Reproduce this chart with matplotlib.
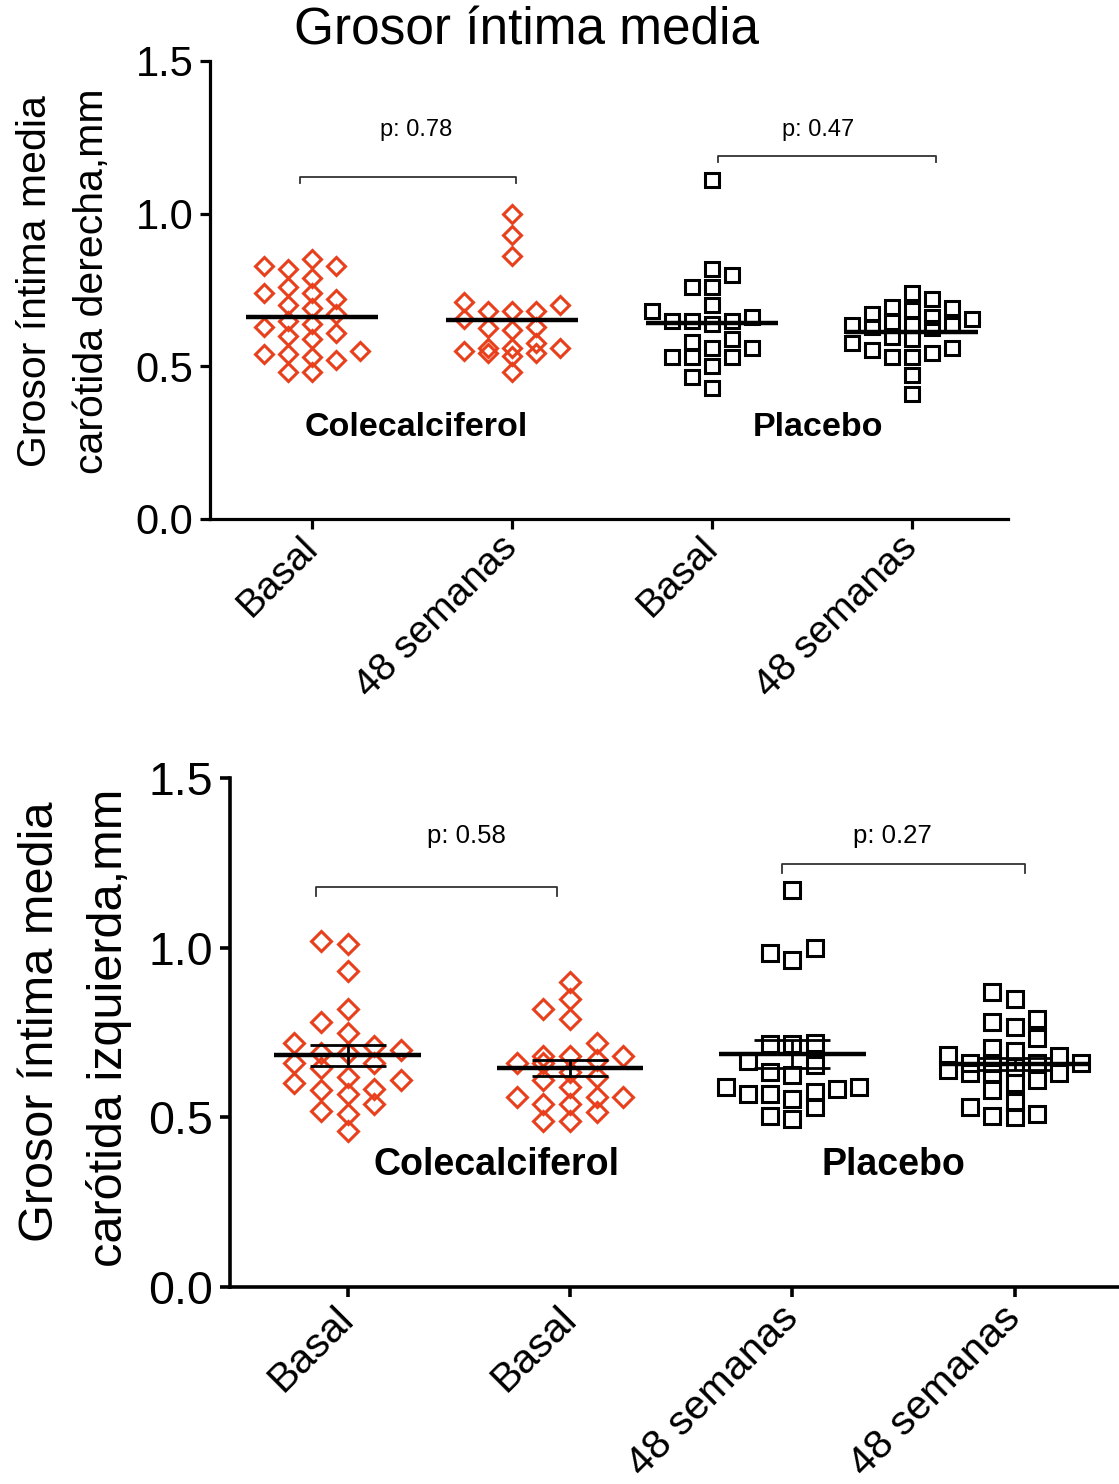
import numpy as np
import matplotlib.pyplot as plt

plt.rcParams['font.family'] = ['Liberation Sans', 'DejaVu Sans']

RED = '#e8401c'

# carótida derecha
der_cole_basal = [0.85, 0.83, 0.79, 0.82, 0.83, 0.74, 0.72, 0.70, 0.74, 0.76,
                  0.69, 0.65, 0.63, 0.64, 0.67, 0.61, 0.59, 0.60, 0.54, 0.52,
                  0.55, 0.54, 0.53, 0.48, 0.48]
der_cole_48 = [1.00, 0.93, 0.86, 0.68, 0.71, 0.68, 0.70, 0.68, 0.655, 0.63,
               0.62, 0.625, 0.56, 0.545, 0.545, 0.575, 0.55, 0.56, 0.535, 0.56,
               0.48]
der_plac_basal = [1.11, 0.82, 0.80, 0.76, 0.76, 0.70, 0.68, 0.65, 0.65, 0.64,
                  0.65, 0.66, 0.58, 0.59, 0.56, 0.56, 0.53, 0.53, 0.53, 0.50,
                  0.465, 0.43]
der_plac_48 = [0.74, 0.72, 0.69, 0.685, 0.695, 0.67, 0.645, 0.655, 0.66, 0.635,
               0.63, 0.625, 0.635, 0.635, 0.595, 0.59, 0.56, 0.545, 0.53, 0.53,
               0.555, 0.575, 0.47, 0.41]

# carótida izquierda
izq_cole_basal = [1.02, 1.01, 0.93, 0.82, 0.78, 0.75, 0.72, 0.70, 0.69, 0.69,
                  0.71, 0.66, 0.645, 0.66, 0.61, 0.62, 0.60, 0.585, 0.57, 0.58,
                  0.52, 0.54, 0.51, 0.46]
izq_cole_48 = [0.90, 0.85, 0.82, 0.79, 0.72, 0.68, 0.66, 0.68, 0.68, 0.66,
               0.67, 0.635, 0.62, 0.61, 0.59, 0.56, 0.56, 0.56, 0.54, 0.54,
               0.515, 0.49, 0.49]
izq_plac_basal = [1.17, 1.00, 0.965, 0.985, 0.715, 0.715, 0.72, 0.655, 0.665, 0.625,
                  0.635, 0.59, 0.575, 0.57, 0.555, 0.57, 0.585, 0.59, 0.53, 0.495,
                  0.505]
izq_plac_48 = [0.87, 0.85, 0.79, 0.765, 0.78, 0.735, 0.705, 0.695, 0.685, 0.68,
               0.66, 0.66, 0.66, 0.66, 0.65, 0.63, 0.63, 0.63, 0.64, 0.60,
               0.58, 0.61, 0.545, 0.51, 0.50, 0.505, 0.53]

ticks_der = ['Basal', '48 semanas', 'Basal', '48 semanas']
ticks_izq = ['Basal', 'Basal', '48 semanas', '48 semanas']
grupos = ['Colecalciferol', 'Placebo']
p_der = ['p: 0.78', 'p: 0.47']
p_izq = ['p: 0.58', 'p: 0.27']


def swarm(values, step, gap, maxk):
    # column scatter: put each point in the nearest free column, or the least crowded one
    values = np.asarray(values)
    offs = np.zeros(len(values))
    placed = []
    cands = [0]
    for k in range(1, maxk + 1):
        cands += [-k, k]
    for i in np.argsort(values, kind='stable'):
        y = values[i]
        best, best_d = 0, -1.0
        for k in cands:
            d = min([abs(y - py) for s, py in placed if s == k], default=9.0)
            if d >= gap:
                best = k
                break
            if d > best_d:
                best, best_d = k, d
        placed.append((best, y))
        offs[i] = best * step
    return offs


def draw_groups(ax, data, ms_d, ms_s, gap):
    for i, vals in enumerate(data):
        vals = np.asarray(vals)
        if i < 2:
            x = i + swarm(vals, 0.12, gap, 2)
            ax.plot(x, vals, ls='none', marker='D', mfc='none', mec=RED,
                    ms=ms_d, mew=2.2, zorder=2)
        else:
            x = i + swarm(vals, 0.1, gap, 3)
            ax.plot(x, vals, ls='none', marker='s', mfc='none', mec='black',
                    ms=ms_s, mew=2.2, zorder=2)


def draw_means(ax, data, sem):
    for i, vals in enumerate(data):
        vals = np.asarray(vals)
        m = vals.mean()
        ax.hlines(m, i - 0.33, i + 0.33, color='black', lw=3.2, zorder=3)
        if sem:
            e = vals.std(ddof=1) / np.sqrt(len(vals))
            ax.hlines([m - e, m + e], i - 0.17, i + 0.17, color='black', lw=2, zorder=3)
            ax.vlines(i, m - e, m + e, color='black', lw=2, zorder=3)


def bracket(ax, x0, x1, y, d, label, tx, ty, fs):
    ax.plot([x0, x0, x1, x1], [y - d, y, y, y - d], color='#333333', lw=1.3)
    ax.text(tx, ty, label, ha='center', va='center', fontsize=fs)


def style(ax, labels, xlim, lw, tick_fs, xtick_fs, xpad):
    ax.set_xlim(*xlim)
    ax.set_ylim(0, 1.5)
    ax.set_yticks([0.0, 0.5, 1.0, 1.5])
    ax.set_yticklabels(['0.0', '0.5', '1.0', '1.5'], fontsize=tick_fs)
    ax.set_xticks(range(4))
    ax.set_xticklabels(labels, fontsize=xtick_fs, rotation=45, ha='right',
                       va='center', rotation_mode='anchor')
    ax.spines['top'].set_visible(False)
    ax.spines['right'].set_visible(False)
    for s in ('left', 'bottom'):
        ax.spines[s].set_linewidth(lw)
    ax.tick_params(axis='both', width=lw, length=7, direction='out', color='black')
    ax.tick_params(axis='y', pad=5)
    ax.tick_params(axis='x', pad=xpad)


fig = plt.figure(figsize=(11.19, 14.84), dpi=100)

# panel derecha
der = [der_cole_basal, der_cole_48, der_plac_basal, der_plac_48]
ax1 = fig.add_axes([0.1877, 0.6503, 0.7131, 0.3086])
draw_groups(ax1, der, 9.5, 10.5, 0.045)
draw_means(ax1, der, False)
style(ax1, ticks_der, (-0.51, 3.48), 2.3, 30, 28, 10)
bracket(ax1, -0.06, 1.02, 1.12, 0.02, p_der[0], 0.52, 1.273, 17)
bracket(ax1, 2.03, 3.12, 1.188, 0.02, p_der[1], 2.53, 1.273, 17)
ax1.text(0.52, 0.30, grupos[0], ha='center', va='center', fontsize=24.5, fontweight='bold')
ax1.text(2.53, 0.30, grupos[1], ha='center', va='center', fontsize=24.5, fontweight='bold')

fig.text(526 / 1119, 1 - 31 / 1484, 'Grosor íntima media', ha='center', va='center',
         fontsize=37)
fig.text(35 / 1119, 1 - 281 / 1484, 'Grosor íntima media', rotation=90,
         ha='center', va='center', fontsize=29.5)
fig.text(92 / 1119, 1 - 281 / 1484, 'carótida derecha,mm', rotation=90,
         ha='center', va='center', fontsize=29.5)

# panel izquierda
izq = [izq_cole_basal, izq_cole_48, izq_plac_basal, izq_plac_48]
ax2 = fig.add_axes([0.2055, 0.1327, 0.7945, 0.343])
draw_groups(ax2, izq, 10, 11, 0.042)
draw_means(ax2, izq, True)
style(ax2, ticks_izq, (-0.53, 3.47), 2.6, 33.5, 29.5, 11)
bracket(ax2, -0.144, 0.94, 1.178, 0.025, p_izq[0], 0.536, 1.328, 18.5)
bracket(ax2, 1.955, 3.045, 1.246, 0.025, p_izq[1], 2.45, 1.328, 18.5)
ax2.text(0.667, 0.36, grupos[0], ha='center', va='center', fontsize=27, fontweight='bold')
ax2.text(2.455, 0.36, grupos[1], ha='center', va='center', fontsize=27, fontweight='bold')

fig.text(41 / 1119, 1 - 1022 / 1484, 'Grosor íntima media', rotation=90,
         ha='center', va='center', fontsize=35)
fig.text(109 / 1119, 1 - 1028 / 1484, 'carótida izquierda,mm', rotation=90,
         ha='center', va='center', fontsize=35)

fig.savefig('out.png', dpi=100)
